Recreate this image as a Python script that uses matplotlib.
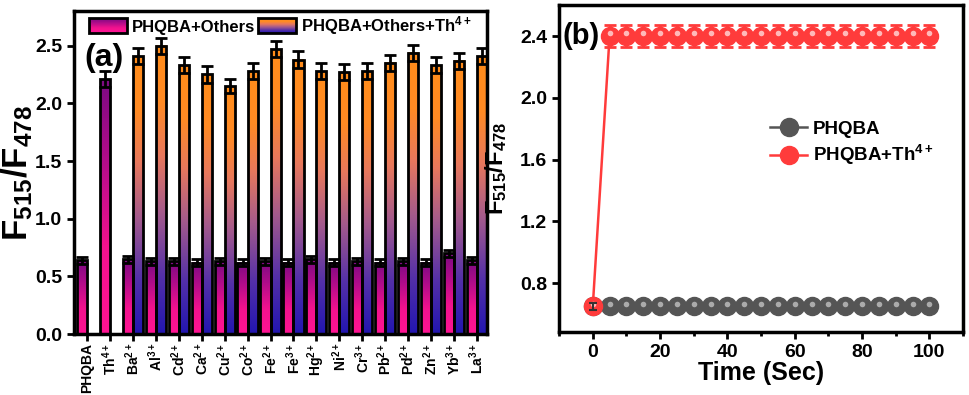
import numpy as np
import matplotlib
matplotlib.use("Agg")
import matplotlib.pyplot as plt
from matplotlib.colors import LinearSegmentedColormap
from matplotlib.patches import Rectangle
from matplotlib.legend_handler import HandlerBase
from matplotlib.lines import Line2D
import matplotlib.transforms as mtransforms
from matplotlib.ticker import MultipleLocator

plt.rcParams['font.family'] = ['Liberation Sans', 'DejaVu Sans']
plt.rcParams['font.weight'] = 'bold'
plt.rcParams['mathtext.fontset'] = 'custom'
plt.rcParams['mathtext.rm'] = 'Liberation Sans:bold'
plt.rcParams['mathtext.it'] = 'Liberation Sans:bold'
plt.rcParams['mathtext.bf'] = 'Liberation Sans:bold'

# ---------------- data: panel (a) ----------------
categories = ["PHQBA", "Th$^{4+}$", "Ba$^{2+}$", "Al$^{3+}$", "Cd$^{2+}$", "Ca$^{2+}$",
              "Cu$^{2+}$", "Co$^{2+}$", "Fe$^{2+}$", "Fe$^{3+}$", "Hg$^{2+}$", "Ni$^{2+}$",
              "Cr$^{3+}$", "Pb$^{2+}$", "Pd$^{2+}$", "Zn$^{2+}$", "Yb$^{3+}$", "La$^{3+}$"]
others = [0.64, 2.21, 0.65, 0.63, 0.63, 0.62, 0.63, 0.62, 0.63, 0.62,
          0.65, 0.62, 0.63, 0.62, 0.63, 0.62, 0.70, 0.64]
others_err = [0.03, 0.07, 0.03, 0.03, 0.03, 0.03, 0.03, 0.03, 0.03, 0.03,
              0.03, 0.03, 0.03, 0.03, 0.03, 0.03, 0.03, 0.03]
others_th = [np.nan, np.nan, 2.41, 2.50, 2.33, 2.25, 2.15, 2.28, 2.47, 2.38,
             2.28, 2.27, 2.28, 2.35, 2.44, 2.33, 2.37, 2.41]
others_th_err = [0, 0, 0.07, 0.07, 0.07, 0.07, 0.06, 0.07, 0.07, 0.07,
                 0.07, 0.07, 0.07, 0.07, 0.07, 0.07, 0.07, 0.07]
legend_a = ["PHQBA+Others", "PHQBA+Others+Th$^{4+}$"]

# ---------------- data: panel (b) ----------------
time_s = [0, 5, 10, 15, 20, 25, 30, 35, 40, 45, 50, 55, 60, 65, 70, 75, 80, 85, 90, 95, 100]
phqba = [0.65, 0.65, 0.65, 0.65, 0.65, 0.65, 0.65, 0.65, 0.65, 0.65, 0.65,
         0.65, 0.65, 0.65, 0.65, 0.65, 0.65, 0.65, 0.65, 0.65, 0.65]
phqba_err = [0.02, 0.02, 0.02, 0.02, 0.02, 0.02, 0.02, 0.02, 0.02, 0.02, 0.02,
             0.02, 0.02, 0.02, 0.02, 0.02, 0.02, 0.02, 0.02, 0.02, 0.02]
phqba_th = [0.65, 2.40, 2.40, 2.40, 2.40, 2.40, 2.40, 2.40, 2.40, 2.40, 2.40,
            2.40, 2.40, 2.40, 2.40, 2.40, 2.40, 2.40, 2.40, 2.40, 2.40]
phqba_th_err = [0.02, 0.07, 0.07, 0.07, 0.07, 0.07, 0.07, 0.07, 0.07, 0.07, 0.07,
                0.07, 0.07, 0.07, 0.07, 0.07, 0.07, 0.07, 0.07, 0.07, 0.07]
legend_b = ["PHQBA", "PHQBA+Th$^{4+}$"]

# ---------------- colormaps ----------------
cmap_pink = LinearSegmentedColormap.from_list(
    "pinkpurple", [(0.0, "#FF1493"), (0.35, "#F2128E"), (0.7, "#B00C8A"), (1.0, "#7C0A82")])
cmap_orange = LinearSegmentedColormap.from_list(
    "blueorange", [(0.0, "#2216B0"), (0.2, "#5430A8"), (0.42, "#A45A8C"),
                   (0.62, "#E8785C"), (0.8, "#FF8A24"), (1.0, "#FF8C1A")])


class GradientHandler(HandlerBase):
    def __init__(self, cmap):
        super().__init__()
        self.cmap = cmap

    def create_artists(self, legend, orig_handle, xdescent, ydescent, width, height,
                       fontsize, trans):
        arts = []
        n = 30
        for i in range(n):
            r = Rectangle((-xdescent, -ydescent + i * height / n), width, height / n + 0.3,
                          facecolor=self.cmap(i / (n - 1)), edgecolor="none", transform=trans)
            arts.append(r)
        arts.append(Rectangle((-xdescent, -ydescent), width, height, facecolor="none",
                              edgecolor="black", lw=2, transform=trans))
        return arts


fig = plt.figure(figsize=(9.69, 3.95), dpi=100)
axa = fig.add_axes([0.0764, 0.1544, 0.4262, 0.8176])
axb = fig.add_axes([0.577, 0.1595, 0.4168, 0.8275])

# ---------------- panel (a) ----------------
w = 0.44
x = np.arange(len(categories))
grad = np.linspace(0, 1, 256).reshape(-1, 1)
for i, xi in enumerate(x):
    h = others[i]
    axa.imshow(grad, extent=[xi - w, xi, 0, h], aspect="auto", cmap=cmap_pink,
               origin="lower", zorder=2, interpolation="bilinear")
    h2 = others_th[i]
    if not np.isnan(h2):
        axa.imshow(grad, extent=[xi, xi + w, 0, h2], aspect="auto", cmap=cmap_orange,
                   origin="lower", zorder=2, interpolation="bilinear")
axa.bar(x - w / 2, others, w, fill=False, edgecolor="black", lw=2, zorder=3)
mask = ~np.isnan(np.array(others_th))
axa.bar(x[mask] + w / 2, np.array(others_th)[mask], w, fill=False, edgecolor="black",
        lw=2, zorder=3)
axa.errorbar(x - w / 2, others, yerr=others_err, fmt="none", ecolor="black", elinewidth=2,
             capsize=4, capthick=2, zorder=4)
axa.errorbar(x[mask] + w / 2, np.array(others_th)[mask], yerr=np.array(others_th_err)[mask],
             fmt="none", ecolor="black", elinewidth=2, capsize=4, capthick=2, zorder=4)

axa.set_xlim(-0.567, 17.44)
axa.set_ylim(0, 2.8)
axa.set_xticks(x)
axa.set_xticklabels(categories, rotation=90, fontsize=10, fontweight="bold")
axa.set_yticks([0.0, 0.5, 1.0, 1.5, 2.0, 2.5])
axa.set_yticklabels(["0.0", "0.5", "1.0", "1.5", "2.0", "2.5"], fontsize=14, fontweight="bold")
axa.tick_params(axis="both", direction="out", length=5, width=2)
axa.tick_params(axis="x", pad=1.5)
for s in axa.spines.values():
    s.set_linewidth(2.5)
axa.set_ylabel("F$_{515}$/F$_{478}$", fontsize=25, fontweight="bold", labelpad=0)
axa.text(0.025, 0.855, "(a)", transform=axa.transAxes, fontsize=23, fontweight="bold",
         va="center", ha="left")

p1 = Rectangle((0, 0), 1, 1)
p2 = Rectangle((0, 0), 1, 1)
axa.legend([p1, p2], legend_a, handler_map={p1: GradientHandler(cmap_pink),
                                            p2: GradientHandler(cmap_orange)},
           loc="upper left", bbox_to_anchor=(0.036, 0.99), ncol=2, frameon=False,
           borderpad=0, borderaxespad=0, handlelength=2.3, handleheight=1.0,
           handletextpad=0.3, columnspacing=0.15, prop={"size": 12, "weight": "bold"})

# ---------------- panel (b) ----------------
gray = "#555555"
red = "#FF3B3B"
hl = mtransforms.offset_copy(axb.transData, fig=fig, x=0, y=2.0, units="points")

axb.plot(time_s, phqba, "-", color=gray, lw=1.5, zorder=2)
axb.plot(time_s, phqba, "o", color=gray, ms=13, mec=gray, zorder=3)
axb.plot(time_s, phqba, "o", color="#B5B5B5", ms=4, mec="none", alpha=0.9, zorder=3.5,
         transform=hl)

axb.plot(time_s, phqba_th, "-", color=red, lw=1.8, zorder=4)
axb.errorbar(time_s, phqba_th, yerr=phqba_th_err, fmt="none", ecolor=red, elinewidth=2,
             capsize=4, capthick=2, zorder=4)
axb.plot(time_s, phqba_th, "o", color=red, ms=13, mec=red, zorder=5)
axb.plot(time_s, phqba_th, "o", color="#FFC8C8", ms=4, mec="none", alpha=0.9, zorder=5.5,
         transform=hl)
axb.errorbar(time_s[:1], phqba[:1], yerr=phqba_err[:1], fmt="none", ecolor="#333333",
             elinewidth=1.5, capsize=3, capthick=1.5, zorder=6)

h1 = Line2D([], [], color=gray, lw=1.8, marker="o", ms=13, mec=gray)
h2 = Line2D([], [], color=red, lw=1.8, marker="o", ms=13, mec=red)
axb.legend([h1, h2], legend_b, loc="center left", bbox_to_anchor=(0.48, 0.575),
           frameon=False, handlelength=2.0, handletextpad=0.3, labelspacing=0.3,
           prop={"size": 13.5, "weight": "bold"})

axb.set_xlim(-10, 110)
axb.set_ylim(0.485, 2.6)
axb.set_xticks([0, 20, 40, 60, 80, 100])
axb.xaxis.set_minor_locator(MultipleLocator(10))
axb.set_yticks([0.8, 1.2, 1.6, 2.0, 2.4])
axb.set_yticklabels(["0.8", "1.2", "1.6", "2.0", "2.4"])
axb.tick_params(axis="both", which="major", direction="out", length=5, width=2, labelsize=14)
axb.tick_params(axis="x", which="minor", direction="out", length=3, width=2)
for lab in axb.get_xticklabels() + axb.get_yticklabels():
    lab.set_fontweight("bold")
for s in axb.spines.values():
    s.set_linewidth(2.5)
axb.set_xlabel("Time (Sec)", fontsize=18, fontweight="bold", labelpad=0)
axb.set_ylabel("F$_{515}$/F$_{478}$", fontsize=17, fontweight="bold", labelpad=8)
axb.text(0.008, 0.905, "(b)", transform=axb.transAxes, fontsize=21, fontweight="bold",
         va="center", ha="left")

fig.savefig("out.png", dpi=100)
